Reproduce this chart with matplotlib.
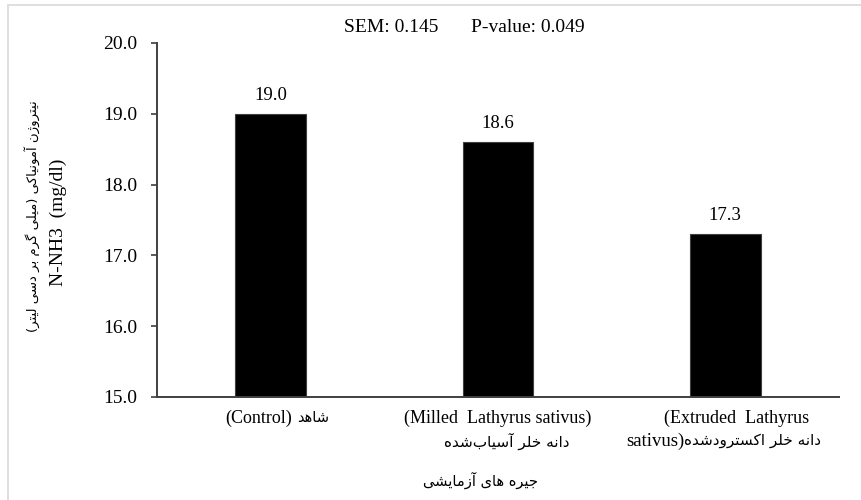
#!/usr/bin/env python3
"""Bar chart: rumen N-NH3 for three experimental diets."""

import matplotlib

matplotlib.use("Agg")
import matplotlib.pyplot as plt
from matplotlib.patches import Rectangle
from matplotlib.transforms import blended_transform_factory

# data
categories = ["Control", "Milled", "Extruded"]
values = [19.0, 18.6, 17.3]
sem_text = "SEM: 0.145"
p_text = "P-value: 0.049"
y_ticks = [15.0, 16.0, 17.0, 18.0, 19.0, 20.0]

# label text (logical order for Persian)
lab_latin = ["(Control)", "(Milled  Lathyrus sativus)", "(Extruded  Lathyrus", "sativus)"]
lab_fa = ["شاهد", "دانه خلر آسیاب\u200cشده", "دانه خلر اکسترودشده"]
ylab_fa = "نیتروژن آمونیاکی (میلی گرم بر دسی لیتر)"
ylab_en = "N-NH3  (mg/dl)"
xlab_fa = "جیره های آزمایشی"

# isolated, final, initial, medial presentation forms
FORMS = {
    "ا": ("\uFE8D", "\uFE8E", None, None),
    "آ": ("\uFE81", "\uFE82", None, None),
    "ب": ("\uFE8F", "\uFE90", "\uFE91", "\uFE92"),
    "ت": ("\uFE95", "\uFE96", "\uFE97", "\uFE98"),
    "ج": ("\uFE9D", "\uFE9E", "\uFE9F", "\uFEA0"),
    "خ": ("\uFEA5", "\uFEA6", "\uFEA7", "\uFEA8"),
    "د": ("\uFEA9", "\uFEAA", None, None),
    "ر": ("\uFEAD", "\uFEAE", None, None),
    "ز": ("\uFEAF", "\uFEB0", None, None),
    "ژ": ("\uFB8A", "\uFB8B", None, None),
    "س": ("\uFEB1", "\uFEB2", "\uFEB3", "\uFEB4"),
    "ش": ("\uFEB5", "\uFEB6", "\uFEB7", "\uFEB8"),
    "ک": ("\uFB8E", "\uFB8F", "\uFB90", "\uFB91"),
    "گ": ("\uFB92", "\uFB93", "\uFB94", "\uFB95"),
    "ل": ("\uFEDD", "\uFEDE", "\uFEDF", "\uFEE0"),
    "م": ("\uFEE1", "\uFEE2", "\uFEE3", "\uFEE4"),
    "ن": ("\uFEE5", "\uFEE6", "\uFEE7", "\uFEE8"),
    "ه": ("\uFEE9", "\uFEEA", "\uFEEB", "\uFEEC"),
    "و": ("\uFEED", "\uFEEE", None, None),
    "ی": ("\uFBFC", "\uFBFD", "\uFBFE", "\uFBFF"),
}
MIRROR = {"(": ")", ")": "("}


def fa(s):
    """Shape Persian text and return it in visual order."""
    out = []
    for i, c in enumerate(s):
        if c not in FORMS:
            if c != "\u200c":
                out.append(MIRROR.get(c, c))
            continue
        prev = s[i - 1] if i > 0 else ""
        nxt = s[i + 1] if i + 1 < len(s) else ""
        join_prev = prev in FORMS and FORMS[prev][2] is not None
        join_next = nxt in FORMS and FORMS[c][2] is not None
        if join_prev and join_next:
            out.append(FORMS[c][3])
        elif join_prev:
            out.append(FORMS[c][1])
        elif join_next:
            out.append(FORMS[c][2])
        else:
            out.append(FORMS[c][0])
    return "".join(reversed(out))


SERIF = "Liberation Serif"
SANS = "DejaVu Sans"

fig = plt.figure(figsize=(8.61, 5), dpi=100)
ax = fig.add_axes([157 / 861, 1 - 397 / 500, (839 - 157) / 861, (397 - 43) / 500])

# chart-area border
fig.patches.append(Rectangle((8 / 861, -0.1), 1.2, 0.1 + 1 - 5 / 500, transform=fig.transFigure,
                             fill=False, edgecolor="#d9d9d9", lw=1.2))

x = list(range(len(categories)))
ax.bar(x, values, width=0.31, color="black", edgecolor="#404040", lw=0.8)
for xi, v in zip(x, values):
    ax.annotate(f"{v:.1f}", (xi, v), xytext=(0, 7), textcoords="offset points",
                ha="center", va="bottom", fontsize=13.5, family=SERIF)

ax.set_xlim(-0.5, 2.5)
ax.set_ylim(15, 20)
ax.set_yticks(y_ticks)
ax.set_yticklabels([f"{t:.1f}" for t in y_ticks], family=SERIF, fontsize=14)
ax.set_xticks([])
ax.tick_params(axis="y", direction="out", length=4, width=1.2, color="#404040", pad=10)
for side in ("top", "right"):
    ax.spines[side].set_visible(False)
for side in ("left", "bottom"):
    ax.spines[side].set_color("#404040")
    ax.spines[side].set_linewidth(1.4)

# category labels
tr = blended_transform_factory(ax.transData, fig.transFigure)
y1, y2 = 1 - 418 / 500, 1 - 441 / 500
ax.text(0.095, y1, lab_latin[0], transform=tr, ha="right", va="center", family=SERIF, fontsize=13)
ax.text(0.115, y1, fa(lab_fa[0]), transform=tr, ha="left", va="center", family=SANS, fontsize=10.5)
ax.text(1, y1, lab_latin[1], transform=tr, ha="center", va="center", family=SERIF, fontsize=13)
ax.text(1.04, y2, fa(lab_fa[1]), transform=tr, ha="center", va="center", family=SANS, fontsize=11)
ax.text(2.05, y1, lab_latin[2], transform=tr, ha="center", va="center", family=SERIF, fontsize=13)
ax.text(1.82, y2, lab_latin[3], transform=tr, ha="right", va="center", family=SERIF, fontsize=13.5)
ax.text(1.82, y2, fa(lab_fa[2]), transform=tr, ha="left", va="center", family=SANS, fontsize=11)

# axis titles
fig.text(32 / 861, 1 - 216 / 500, fa(ylab_fa), rotation=90, ha="center", va="center",
         family=SANS, fontsize=9.5)
fig.text(58 / 861, 1 - 222 / 500, ylab_en, rotation=90, ha="center", va="center",
         family=SERIF, fontsize=14)
fig.text(481 / 861, 1 - 480 / 500, fa(xlab_fa), ha="center", va="center", family=SANS, fontsize=10.5)
fig.text(391 / 861, 1 - 27 / 500, sem_text, ha="center", va="center", family=SERIF, fontsize=14)
fig.text(528 / 861, 1 - 27 / 500, p_text, ha="center", va="center", family=SERIF, fontsize=14)

fig.savefig("out.png", dpi=100)
